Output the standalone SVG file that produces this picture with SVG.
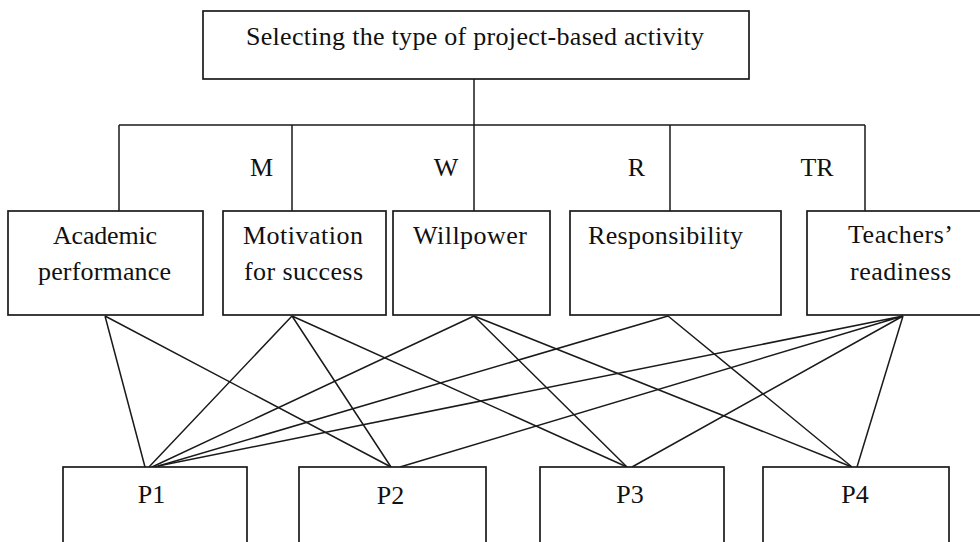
<svg xmlns="http://www.w3.org/2000/svg" width="980" height="542" viewBox="0 0 980 542">
<style>
.box{fill:#fff;stroke:#1a1a1a;stroke-width:1.7}
.ln{stroke:#1a1a1a;stroke-width:1.5;fill:none}
.t{font-family:"Liberation Serif","Times New Roman",serif;font-size:26px;fill:#111}
.c{text-anchor:middle}
</style>
<rect width="980" height="542" fill="#fff"/>
<g id="connectors">
<path class="ln" d="M474 79V125M119 125H865M119 125V211M292 125V211M474 125V211M670 125V211M865 125V211"/>
<path class="ln" d="M105 316L145 467M105 316L391 467"/>
<path class="ln" d="M292 316L149 467M292 316L391 467M292 316L627 467"/>
<path class="ln" d="M474 316L152 467M474 316L627 467M474 316L852 467"/>
<path class="ln" d="M668 316L155 467M668 316L852 467"/>
<path class="ln" d="M903 316L158 466M903 316L400 467M903 316L632 467M903 316L857 467"/>
</g>
<g id="labels">
<text class="t c" x="261.5" y="176">M</text>
<text class="t c" x="446" y="176">W</text>
<text class="t c" x="636.5" y="176">R</text>
<text class="t c" x="817" y="176">TR</text>
</g>
<g id="top"><rect class="box" x="203" y="11" width="546" height="68"/><text class="t" x="246" y="45" textLength="458">Selecting the type of project-based activity</text></g>
<g id="academic"><rect class="box" x="8" y="211" width="195" height="104"/><text class="t" x="53" y="244" textLength="104">Academic</text><text class="t" x="38" y="280" textLength="133">performance</text></g>
<g id="motivation"><rect class="box" x="223" y="211" width="163" height="104"/><text class="t" x="243" y="244" textLength="120">Motivation</text><text class="t" x="244" y="280" textLength="119">for success</text></g>
<g id="willpower"><rect class="box" x="393" y="211" width="157" height="104"/><text class="t" x="413" y="244" textLength="114">Willpower</text></g>
<g id="responsibility"><rect class="box" x="570" y="211" width="211" height="104"/><text class="t" x="588" y="244" textLength="155">Responsibility</text></g>
<g id="teachers"><rect class="box" x="807" y="211" width="185" height="104"/><text class="t" x="848" y="243" textLength="105">Teachers’</text><text class="t" x="850" y="280" textLength="101">readiness</text></g>
<g id="p1"><rect class="box" x="63" y="467" width="184" height="90"/><text class="t c" x="151.5" y="503">P1</text></g>
<g id="p2"><rect class="box" x="299" y="467" width="187" height="90"/><text class="t c" x="390.5" y="504">P2</text></g>
<g id="p3"><rect class="box" x="540" y="467" width="184" height="90"/><text class="t c" x="630" y="503">P3</text></g>
<g id="p4"><rect class="box" x="763" y="467" width="186" height="90"/><text class="t c" x="855" y="503">P4</text></g>
</svg>
